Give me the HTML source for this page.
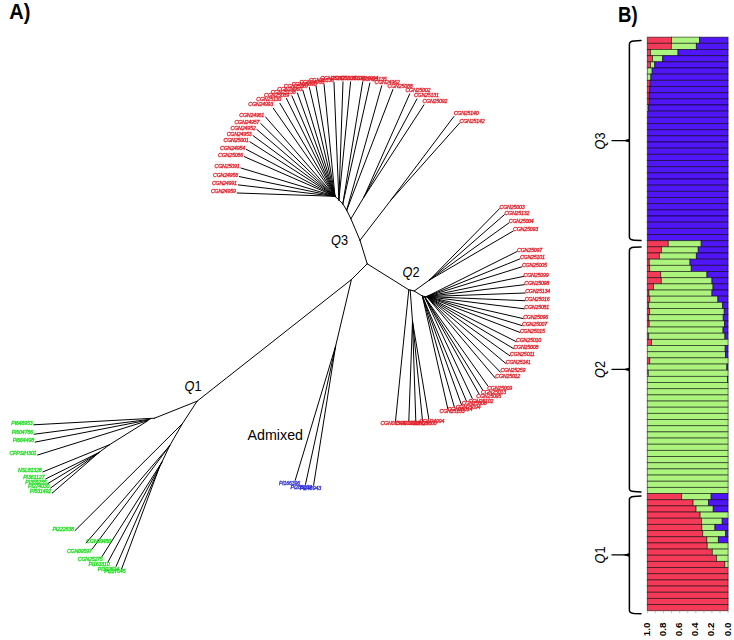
<!DOCTYPE html>
<html><head><meta charset="utf-8"><title>Figure</title>
<style>html,body{margin:0;padding:0;background:#fff}svg{display:block}</style></head>
<body><svg width="734" height="640" viewBox="0 0 734 640">
<defs><filter id="bl" x="-5%" y="-5%" width="110%" height="110%"><feGaussianBlur stdDeviation="0.35"/></filter></defs>
<rect width="734" height="640" fill="#fff"/>
<g stroke="#000" stroke-width="1" stroke-linecap="round" fill="none">
<path d="M367.2 263.8L360.0 240.3M360.0 240.3L350.9 218.8M350.9 218.8L346.7 210.2M346.7 210.2L342.8 203.9M342.8 203.9L338.9 200.0M338.9 200.0L335.0 196.3M360.0 240.3L391.0 200.0M391.0 200.0L453.9 116.5M391.0 200.0L459.6 123.0M350.9 218.8L364.0 197.0M364.0 197.0L409.7 93.9M364.0 197.0L416.9 99.0M364.0 197.0L423.9 104.9M346.7 210.2L381.7 85.8M346.7 210.2L392.9 89.5M342.8 203.9L362.7 81.9M342.8 203.9L369.9 83.0M338.9 200.0L343.0 81.9M338.9 200.0L350.6 81.9M335.0 196.3L237.2 193.0M335.0 196.3L238.3 184.9M335.0 196.3L239.4 176.6M335.0 196.3L240.9 168.0M335.0 196.3L244.4 156.7M335.0 196.3L246.4 149.4M335.0 196.3L249.9 141.8M335.0 196.3L253.0 135.6M335.0 196.3L256.9 129.5M335.0 196.3L260.8 123.6M335.0 196.3L265.6 117.0M335.0 196.3L273.3 108.3M335.0 196.3L279.9 103.3M335.0 196.3L286.4 98.4M335.0 196.3L291.9 95.8M335.0 196.3L297.4 93.0M335.0 196.3L302.8 90.1M335.0 196.3L309.4 87.5M335.0 196.3L316.0 85.8M335.0 196.3L324.0 84.0M338.9 200.0L334.0 82.3M367.2 263.8L408.8 289.8M408.8 289.8L414.2 291.0M414.2 291.0L422.4 296.1M422.4 296.1L424.4 296.5M424.4 296.5L426.7 296.6M414.2 291.0L429.5 280.0M429.5 280.0L499.6 208.6M429.5 280.0L504.4 214.7M429.5 280.0L508.8 223.0M429.5 280.0L513.1 231.1M426.7 296.6L517.1 251.5M426.7 296.6L519.9 258.9M426.7 296.6L521.9 266.8M426.7 296.6L523.6 276.4M426.7 296.6L524.3 284.7M426.7 296.6L525.2 293.0M426.7 296.6L524.7 300.7M426.7 296.6L524.3 308.8M426.7 296.6L523.2 318.6M426.7 296.6L522.1 325.6M426.7 296.6L519.9 332.4M426.7 296.6L516.1 341.6M426.7 296.6L513.5 348.6M426.7 296.6L509.8 355.8M426.7 296.6L505.8 363.5M426.7 296.6L500.4 372.2M426.7 296.6L495.3 378.1M424.4 296.5L487.9 386.0M424.4 296.5L482.8 390.2M424.4 296.5L478.9 393.7M424.4 296.5L472.3 398.5M422.4 296.1L466.4 401.1M422.4 296.1L461.4 404.6M422.4 296.1L454.4 407.2M422.4 296.1L447.8 408.8M408.8 289.8L395.5 421.2M410.2 290.0L412.5 321.2M412.5 321.2L408.8 421.2M412.5 321.2L415.8 421.2M412.5 321.2L422.5 420.5M412.5 321.2L428.8 418.8M367.2 263.8L351.4 279.6M351.4 279.6L197.1 401.2M351.4 279.6L335.6 346.2M335.6 346.2L295.2 480.3M335.6 346.2L305.5 484.3M335.6 346.2L313.6 485.3M197.1 401.2L154.5 418.2M154.5 418.2L33.8 424.8M150.0 419.3L34.2 434.2M148.5 420.0L35.2 442.1M147.7 420.7L37.7 455.0M147.0 421.3L109.5 444.7M109.5 444.7L99.0 452.5M109.5 444.7L42.9 471.9M99.0 452.5L45.7 478.9M99.0 452.5L47.8 483.6M99.0 452.5L50.6 488.0M99.0 452.5L52.3 493.0M197.1 401.2L182.5 423.5M182.5 423.5L169.6 445.8M169.6 445.8L161.9 462.2M161.9 462.2L159.5 467.0M182.5 423.5L75.0 530.6M169.6 445.8L86.2 542.9M169.6 445.8L92.5 548.6M161.9 462.2L102.0 556.5M161.9 462.2L108.0 562.0M159.5 467.0L116.1 566.3M159.5 467.0L121.6 569.0"/>
</g>
<g font-family="Liberation Sans, sans-serif" font-style="italic" font-size="5.3" stroke-width=".3" filter="url(#bl)" lengthAdjust="spacingAndGlyphs">
<text x="453.7" y="114.6" fill="#e0222c" stroke="#e0222c" textLength="25.0">CGN25140</text>
<text x="459.6" y="123.2" fill="#e0222c" stroke="#e0222c" textLength="25.0">CGN25142</text>
<text x="405.4" y="92.0" fill="#e0222c" stroke="#e0222c" textLength="25.0">CGN25002</text>
<text x="414.0" y="97.1" fill="#e0222c" stroke="#e0222c" textLength="25.0">CGN25131</text>
<text x="422.5" y="103.0" fill="#e0222c" stroke="#e0222c" textLength="25.0">CGN25092</text>
<text x="374.6" y="83.9" fill="#e0222c" stroke="#e0222c" textLength="25.0">CGN24962</text>
<text x="387.6" y="87.6" fill="#e0222c" stroke="#e0222c" textLength="25.0">CGN25088</text>
<text x="353.2" y="80.0" fill="#e0222c" stroke="#e0222c" textLength="25.0">CGN24994</text>
<text x="361.7" y="81.1" fill="#e0222c" stroke="#e0222c" textLength="25.0">CGN25135</text>
<text x="330.9" y="80.0" fill="#e0222c" stroke="#e0222c" textLength="25.0">CGN25139</text>
<text x="339.8" y="80.0" fill="#e0222c" stroke="#e0222c" textLength="25.0">CGN25100</text>
<text x="210.9" y="193.2" fill="#e0222c" stroke="#e0222c" textLength="25.0">CGN24959</text>
<text x="212.0" y="185.1" fill="#e0222c" stroke="#e0222c" textLength="25.0">CGN24991</text>
<text x="213.1" y="176.8" fill="#e0222c" stroke="#e0222c" textLength="25.0">CGN24956</text>
<text x="214.6" y="168.2" fill="#e0222c" stroke="#e0222c" textLength="25.0">CGN25091</text>
<text x="218.1" y="156.9" fill="#e0222c" stroke="#e0222c" textLength="25.0">CGN25086</text>
<text x="220.1" y="149.6" fill="#e0222c" stroke="#e0222c" textLength="25.0">CGN24954</text>
<text x="223.6" y="142.0" fill="#e0222c" stroke="#e0222c" textLength="25.0">CGN25001</text>
<text x="226.7" y="135.8" fill="#e0222c" stroke="#e0222c" textLength="25.0">CGN24953</text>
<text x="230.6" y="129.7" fill="#e0222c" stroke="#e0222c" textLength="25.0">CGN24952</text>
<text x="234.5" y="123.8" fill="#e0222c" stroke="#e0222c" textLength="25.0">CGN24957</text>
<text x="239.3" y="117.2" fill="#e0222c" stroke="#e0222c" textLength="25.0">CGN24961</text>
<text x="248.3" y="106.4" fill="#e0222c" stroke="#e0222c" textLength="25.0">CGN24993</text>
<text x="256.3" y="101.4" fill="#e0222c" stroke="#e0222c" textLength="25.0">CGN25130</text>
<text x="264.1" y="96.5" fill="#e0222c" stroke="#e0222c" textLength="25.0">CGN25089</text>
<text x="270.7" y="93.9" fill="#e0222c" stroke="#e0222c" textLength="25.0">CGN25138</text>
<text x="277.3" y="91.1" fill="#e0222c" stroke="#e0222c" textLength="25.0">CGN24960</text>
<text x="283.8" y="88.2" fill="#e0222c" stroke="#e0222c" textLength="25.0">CGN25087</text>
<text x="291.7" y="85.6" fill="#e0222c" stroke="#e0222c" textLength="25.0">CGN25090</text>
<text x="299.5" y="83.9" fill="#e0222c" stroke="#e0222c" textLength="25.0">CGN24958</text>
<text x="309.0" y="82.1" fill="#e0222c" stroke="#e0222c" textLength="25.0">CGN25136</text>
<text x="320.2" y="80.4" fill="#e0222c" stroke="#e0222c" textLength="25.0">CGN25137</text>
<text x="499.6" y="208.8" fill="#e0222c" stroke="#e0222c" textLength="25.0">CGN25003</text>
<text x="504.4" y="214.9" fill="#e0222c" stroke="#e0222c" textLength="25.0">CGN25132</text>
<text x="508.8" y="223.2" fill="#e0222c" stroke="#e0222c" textLength="25.0">CGN25004</text>
<text x="513.1" y="231.3" fill="#e0222c" stroke="#e0222c" textLength="25.0">CGN25093</text>
<text x="517.1" y="251.7" fill="#e0222c" stroke="#e0222c" textLength="25.0">CGN25097</text>
<text x="519.9" y="259.1" fill="#e0222c" stroke="#e0222c" textLength="25.0">CGN25101</text>
<text x="521.9" y="267.0" fill="#e0222c" stroke="#e0222c" textLength="25.0">CGN25005</text>
<text x="523.6" y="276.6" fill="#e0222c" stroke="#e0222c" textLength="25.0">CGN25099</text>
<text x="524.3" y="284.9" fill="#e0222c" stroke="#e0222c" textLength="25.0">CGN25098</text>
<text x="525.2" y="293.2" fill="#e0222c" stroke="#e0222c" textLength="25.0">CGN25134</text>
<text x="524.7" y="300.9" fill="#e0222c" stroke="#e0222c" textLength="25.0">CGN25016</text>
<text x="524.3" y="309.0" fill="#e0222c" stroke="#e0222c" textLength="25.0">CGN25081</text>
<text x="523.2" y="318.8" fill="#e0222c" stroke="#e0222c" textLength="25.0">CGN25096</text>
<text x="522.1" y="325.8" fill="#e0222c" stroke="#e0222c" textLength="25.0">CGN25007</text>
<text x="519.9" y="332.6" fill="#e0222c" stroke="#e0222c" textLength="25.0">CGN25015</text>
<text x="516.1" y="341.8" fill="#e0222c" stroke="#e0222c" textLength="25.0">CGN25010</text>
<text x="513.5" y="348.8" fill="#e0222c" stroke="#e0222c" textLength="25.0">CGN25008</text>
<text x="509.8" y="356.0" fill="#e0222c" stroke="#e0222c" textLength="25.0">CGN25011</text>
<text x="505.8" y="363.7" fill="#e0222c" stroke="#e0222c" textLength="25.0">CGN25141</text>
<text x="500.4" y="372.4" fill="#e0222c" stroke="#e0222c" textLength="25.0">CGN25259</text>
<text x="495.3" y="378.3" fill="#e0222c" stroke="#e0222c" textLength="25.0">CGN25012</text>
<text x="487.2" y="390.2" fill="#e0222c" stroke="#e0222c" textLength="25.0">CGN25009</text>
<text x="481.1" y="394.4" fill="#e0222c" stroke="#e0222c" textLength="25.0">CGN25013</text>
<text x="476.3" y="397.9" fill="#e0222c" stroke="#e0222c" textLength="25.0">CGN25095</text>
<text x="468.4" y="402.7" fill="#e0222c" stroke="#e0222c" textLength="25.0">CGN25102</text>
<text x="461.7" y="405.3" fill="#e0222c" stroke="#e0222c" textLength="25.0">CGN25006</text>
<text x="455.7" y="408.8" fill="#e0222c" stroke="#e0222c" textLength="25.0">CGN25094</text>
<text x="447.4" y="411.4" fill="#e0222c" stroke="#e0222c" textLength="25.0">CGN25014</text>
<text x="439.6" y="413.0" fill="#e0222c" stroke="#e0222c" textLength="25.0">CGN25133</text>
<text x="380.5" y="425.4" fill="#e0222c" stroke="#e0222c" textLength="25.0">CGN05548</text>
<text x="395.1" y="425.4" fill="#e0222c" stroke="#e0222c" textLength="25.0">CGN05549</text>
<text x="403.6" y="425.4" fill="#e0222c" stroke="#e0222c" textLength="25.0">CGN25129</text>
<text x="411.8" y="424.7" fill="#e0222c" stroke="#e0222c" textLength="25.0">CGN25100</text>
<text x="419.4" y="422.9" fill="#e0222c" stroke="#e0222c" textLength="25.0">CGN24994</text>
<text x="278.9" y="484.5" fill="#2a2ad8" stroke="#2a2ad8" textLength="21.4">PI166396</text>
<text x="290.6" y="488.5" fill="#2a2ad8" stroke="#2a2ad8" textLength="21.4">PI288232</text>
<text x="299.7" y="489.5" fill="#2a2ad8" stroke="#2a2ad8" textLength="21.4">PI248943</text>
<text x="11.3" y="425.0" fill="#22dd22" stroke="#22dd22" textLength="21.4">PI648953</text>
<text x="11.7" y="434.4" fill="#22dd22" stroke="#22dd22" textLength="21.4">PI604786</text>
<text x="12.7" y="442.3" fill="#22dd22" stroke="#22dd22" textLength="21.4">PI664498</text>
<text x="9.4" y="455.2" fill="#22dd22" stroke="#22dd22" textLength="27.0">CPPSIH301</text>
<text x="18.1" y="472.1" fill="#22dd22" stroke="#22dd22" textLength="23.6">NSL81328</text>
<text x="23.2" y="479.1" fill="#22dd22" stroke="#22dd22" textLength="21.4">PI361127</text>
<text x="25.3" y="483.8" fill="#22dd22" stroke="#22dd22" textLength="21.4">PI358255</text>
<text x="28.1" y="488.2" fill="#22dd22" stroke="#22dd22" textLength="21.4">PI274030</text>
<text x="29.8" y="493.2" fill="#22dd22" stroke="#22dd22" textLength="21.4">PI531492</text>
<text x="52.5" y="530.8" fill="#22dd22" stroke="#22dd22" textLength="21.4">PI222838</text>
<text x="86.2" y="543.2" fill="#22dd22" stroke="#22dd22" textLength="25.0">CGN09480</text>
<text x="67.0" y="552.8" fill="#22dd22" stroke="#22dd22" textLength="25.0">CGN09597</text>
<text x="77.8" y="560.7" fill="#22dd22" stroke="#22dd22" textLength="25.0">CGN25275</text>
<text x="88.4" y="566.2" fill="#22dd22" stroke="#22dd22" textLength="21.4">PI163310</text>
<text x="97.8" y="570.5" fill="#22dd22" stroke="#22dd22" textLength="21.4">PI302514</text>
<text x="104.3" y="573.2" fill="#22dd22" stroke="#22dd22" textLength="21.4">PI227045</text>
</g>
<g font-family="Liberation Sans, sans-serif" fill="#000">
<text x="339.5" y="244.6" font-size="14.4" text-anchor="middle" textLength="17" lengthAdjust="spacingAndGlyphs"><tspan font-style="italic">Q</tspan>3</text>
<text x="411" y="276.5" font-size="14.4" text-anchor="middle" textLength="17" lengthAdjust="spacingAndGlyphs"><tspan font-style="italic">Q</tspan>2</text>
<text x="193" y="390.6" font-size="14.4" text-anchor="middle" textLength="17" lengthAdjust="spacingAndGlyphs"><tspan font-style="italic">Q</tspan>1</text>
<text x="247.5" y="439.5" font-size="14" textLength="55.5" lengthAdjust="spacingAndGlyphs">Admixed</text>
<text x="9.3" y="19.1" font-size="21.5" font-weight="bold" textLength="21.2" lengthAdjust="spacingAndGlyphs">A)</text>
<text x="618" y="21.8" font-size="21.5" font-weight="bold" textLength="19.6" lengthAdjust="spacingAndGlyphs">B)</text>
<text x="605" y="141" font-size="14.4" text-anchor="middle" textLength="17" lengthAdjust="spacingAndGlyphs" transform="rotate(-90 605 141)"><tspan font-style="italic">Q</tspan>3</text>
<text x="605" y="369.5" font-size="14.4" text-anchor="middle" textLength="17" lengthAdjust="spacingAndGlyphs" transform="rotate(-90 605 369.5)"><tspan font-style="italic">Q</tspan>2</text>
<text x="605" y="555" font-size="14.4" text-anchor="middle" textLength="17" lengthAdjust="spacingAndGlyphs" transform="rotate(-90 605 555)"><tspan font-style="italic">Q</tspan>1</text>
</g>
<path d="M641 40.6L634 41.0Q629.4 41.3 629.4 44.1L629.4 237.1Q629.4 239.9 634 240.2L641 240.6" fill="none" stroke="#000" stroke-width="1.5" stroke-linecap="round"/>
<path d="M612 140.6L629.4 140.6" stroke="#000" stroke-width="1.3" fill="none" stroke-linecap="round"/>
<path d="M623 140.6L629.4 138.8L629.4 142.4Z" fill="#000"/>
<path d="M641 246.9L634 247.3Q629.4 247.6 629.4 250.4L629.4 488.4Q629.4 491.2 634 491.5L641 491.9" fill="none" stroke="#000" stroke-width="1.5" stroke-linecap="round"/>
<path d="M612 369.4L629.4 369.4" stroke="#000" stroke-width="1.3" fill="none" stroke-linecap="round"/>
<path d="M623 369.4L629.4 367.6L629.4 371.2Z" fill="#000"/>
<path d="M641 496.0L634 496.4Q629.4 496.7 629.4 499.5L629.4 610.2Q629.4 613.0 634 613.4L641 613.8" fill="none" stroke="#000" stroke-width="1.5" stroke-linecap="round"/>
<path d="M612 554.9L629.4 554.9" stroke="#000" stroke-width="1.3" fill="none" stroke-linecap="round"/>
<path d="M623 554.9L629.4 553.1L629.4 556.7Z" fill="#000"/>
<g stroke="#000" stroke-opacity=".58" stroke-width=".9">
<rect x="647.30" y="37.15" width="24.24" height="6.17" fill="#f43a58"/>
<rect x="671.54" y="37.15" width="28.04" height="6.17" fill="#adf47f"/>
<rect x="699.58" y="37.15" width="28.52" height="6.17" fill="#5016f5"/>
<rect x="647.30" y="43.32" width="24.08" height="6.17" fill="#f43a58"/>
<rect x="671.38" y="43.32" width="24.97" height="6.17" fill="#adf47f"/>
<rect x="696.35" y="43.32" width="31.75" height="6.17" fill="#5016f5"/>
<rect x="647.30" y="49.49" width="3.23" height="6.17" fill="#f43a58"/>
<rect x="650.53" y="49.49" width="27.47" height="6.17" fill="#adf47f"/>
<rect x="678.00" y="49.49" width="50.10" height="6.17" fill="#5016f5"/>
<rect x="647.30" y="55.65" width="5.25" height="6.17" fill="#f43a58"/>
<rect x="652.55" y="55.65" width="10.10" height="6.17" fill="#adf47f"/>
<rect x="662.65" y="55.65" width="65.45" height="6.17" fill="#5016f5"/>
<rect x="647.30" y="61.82" width="3.23" height="6.17" fill="#f43a58"/>
<rect x="650.53" y="61.82" width="4.20" height="6.17" fill="#adf47f"/>
<rect x="654.73" y="61.82" width="73.37" height="6.17" fill="#5016f5"/>
<rect x="647.30" y="67.99" width="4.85" height="6.17" fill="#adf47f"/>
<rect x="652.15" y="67.99" width="75.95" height="6.17" fill="#5016f5"/>
<rect x="647.30" y="74.16" width="3.56" height="6.17" fill="#adf47f"/>
<rect x="650.86" y="74.16" width="77.24" height="6.17" fill="#5016f5"/>
<rect x="647.30" y="80.32" width="2.91" height="6.17" fill="#f43a58"/>
<rect x="650.21" y="80.32" width="77.89" height="6.17" fill="#5016f5"/>
<rect x="647.30" y="86.49" width="2.42" height="6.17" fill="#f43a58"/>
<rect x="649.72" y="86.49" width="78.38" height="6.17" fill="#5016f5"/>
<rect x="647.30" y="92.66" width="1.94" height="6.17" fill="#f43a58"/>
<rect x="649.24" y="92.66" width="78.86" height="6.17" fill="#5016f5"/>
<rect x="647.30" y="98.83" width="1.94" height="6.17" fill="#f43a58"/>
<rect x="649.24" y="98.83" width="78.86" height="6.17" fill="#5016f5"/>
<rect x="647.30" y="105.00" width="1.13" height="6.17" fill="#adf47f"/>
<rect x="648.43" y="105.00" width="79.67" height="6.17" fill="#5016f5"/>
<rect x="647.30" y="111.16" width="80.80" height="6.17" fill="#5016f5"/>
<rect x="647.30" y="117.33" width="80.80" height="6.17" fill="#5016f5"/>
<rect x="647.30" y="123.50" width="80.80" height="6.17" fill="#5016f5"/>
<rect x="647.30" y="129.67" width="80.80" height="6.17" fill="#5016f5"/>
<rect x="647.30" y="135.83" width="80.80" height="6.17" fill="#5016f5"/>
<rect x="647.30" y="142.00" width="80.80" height="6.17" fill="#5016f5"/>
<rect x="647.30" y="148.17" width="80.80" height="6.17" fill="#5016f5"/>
<rect x="647.30" y="154.34" width="80.80" height="6.17" fill="#5016f5"/>
<rect x="647.30" y="160.50" width="80.80" height="6.17" fill="#5016f5"/>
<rect x="647.30" y="166.67" width="80.80" height="6.17" fill="#5016f5"/>
<rect x="647.30" y="172.84" width="80.80" height="6.17" fill="#5016f5"/>
<rect x="647.30" y="179.01" width="80.80" height="6.17" fill="#5016f5"/>
<rect x="647.30" y="185.18" width="80.80" height="6.17" fill="#5016f5"/>
<rect x="647.30" y="191.34" width="80.80" height="6.17" fill="#5016f5"/>
<rect x="647.30" y="197.51" width="80.80" height="6.17" fill="#5016f5"/>
<rect x="647.30" y="203.68" width="80.80" height="6.17" fill="#5016f5"/>
<rect x="647.30" y="209.85" width="80.80" height="6.17" fill="#5016f5"/>
<rect x="647.30" y="216.01" width="80.80" height="6.17" fill="#5016f5"/>
<rect x="647.30" y="222.18" width="80.80" height="6.17" fill="#5016f5"/>
<rect x="647.30" y="228.35" width="80.80" height="6.17" fill="#5016f5"/>
<rect x="647.30" y="234.52" width="80.80" height="6.17" fill="#5016f5"/>
<rect x="647.30" y="240.69" width="21.01" height="6.17" fill="#f43a58"/>
<rect x="668.31" y="240.69" width="32.89" height="6.17" fill="#adf47f"/>
<rect x="701.19" y="240.69" width="26.91" height="6.17" fill="#5016f5"/>
<rect x="647.30" y="246.85" width="14.14" height="6.17" fill="#f43a58"/>
<rect x="661.44" y="246.85" width="36.76" height="6.17" fill="#adf47f"/>
<rect x="698.20" y="246.85" width="29.90" height="6.17" fill="#5016f5"/>
<rect x="647.30" y="253.02" width="12.12" height="6.17" fill="#f43a58"/>
<rect x="659.42" y="253.02" width="36.93" height="6.17" fill="#adf47f"/>
<rect x="696.35" y="253.02" width="31.75" height="6.17" fill="#5016f5"/>
<rect x="647.30" y="259.19" width="2.02" height="6.17" fill="#f43a58"/>
<rect x="649.32" y="259.19" width="40.64" height="6.17" fill="#adf47f"/>
<rect x="689.96" y="259.19" width="38.14" height="6.17" fill="#5016f5"/>
<rect x="647.30" y="265.36" width="2.42" height="6.17" fill="#f43a58"/>
<rect x="649.72" y="265.36" width="41.53" height="6.17" fill="#adf47f"/>
<rect x="691.26" y="265.36" width="36.84" height="6.17" fill="#5016f5"/>
<rect x="647.30" y="271.52" width="13.41" height="6.17" fill="#f43a58"/>
<rect x="660.71" y="271.52" width="46.22" height="6.17" fill="#adf47f"/>
<rect x="706.93" y="271.52" width="21.17" height="6.17" fill="#5016f5"/>
<rect x="647.30" y="277.69" width="14.06" height="6.17" fill="#f43a58"/>
<rect x="661.36" y="277.69" width="50.58" height="6.17" fill="#adf47f"/>
<rect x="711.94" y="277.69" width="16.16" height="6.17" fill="#5016f5"/>
<rect x="647.30" y="283.86" width="6.14" height="6.17" fill="#f43a58"/>
<rect x="653.44" y="283.86" width="59.55" height="6.17" fill="#adf47f"/>
<rect x="712.99" y="283.86" width="15.11" height="6.17" fill="#5016f5"/>
<rect x="647.30" y="290.03" width="1.62" height="6.17" fill="#f43a58"/>
<rect x="648.92" y="290.03" width="63.02" height="6.17" fill="#adf47f"/>
<rect x="711.94" y="290.03" width="16.16" height="6.17" fill="#5016f5"/>
<rect x="647.30" y="296.20" width="2.42" height="6.17" fill="#f43a58"/>
<rect x="649.72" y="296.20" width="68.11" height="6.17" fill="#adf47f"/>
<rect x="717.84" y="296.20" width="10.26" height="6.17" fill="#5016f5"/>
<rect x="647.30" y="302.36" width="1.37" height="6.17" fill="#f43a58"/>
<rect x="648.67" y="302.36" width="73.93" height="6.17" fill="#adf47f"/>
<rect x="722.61" y="302.36" width="5.49" height="6.17" fill="#5016f5"/>
<rect x="647.30" y="308.53" width="2.34" height="6.17" fill="#f43a58"/>
<rect x="649.64" y="308.53" width="74.58" height="6.17" fill="#adf47f"/>
<rect x="724.22" y="308.53" width="3.88" height="6.17" fill="#5016f5"/>
<rect x="647.30" y="314.70" width="1.37" height="6.17" fill="#f43a58"/>
<rect x="648.67" y="314.70" width="74.58" height="6.17" fill="#adf47f"/>
<rect x="723.25" y="314.70" width="4.85" height="6.17" fill="#5016f5"/>
<rect x="647.30" y="320.87" width="1.94" height="6.17" fill="#f43a58"/>
<rect x="649.24" y="320.87" width="75.31" height="6.17" fill="#adf47f"/>
<rect x="724.54" y="320.87" width="3.56" height="6.17" fill="#5016f5"/>
<rect x="647.30" y="327.03" width="75.71" height="6.17" fill="#adf47f"/>
<rect x="723.01" y="327.03" width="5.09" height="6.17" fill="#5016f5"/>
<rect x="647.30" y="333.20" width="1.37" height="6.17" fill="#f43a58"/>
<rect x="648.67" y="333.20" width="76.19" height="6.17" fill="#adf47f"/>
<rect x="724.87" y="333.20" width="3.23" height="6.17" fill="#5016f5"/>
<rect x="647.30" y="339.37" width="4.20" height="6.17" fill="#f43a58"/>
<rect x="651.50" y="339.37" width="76.60" height="6.17" fill="#adf47f"/>
<rect x="647.30" y="345.54" width="77.89" height="6.17" fill="#adf47f"/>
<rect x="725.19" y="345.54" width="2.91" height="6.17" fill="#5016f5"/>
<rect x="647.30" y="351.70" width="78.21" height="6.17" fill="#adf47f"/>
<rect x="725.51" y="351.70" width="2.59" height="6.17" fill="#5016f5"/>
<rect x="647.30" y="357.87" width="2.42" height="6.17" fill="#f43a58"/>
<rect x="649.72" y="357.87" width="78.38" height="6.17" fill="#adf47f"/>
<rect x="647.30" y="364.04" width="79.51" height="6.17" fill="#adf47f"/>
<rect x="726.81" y="364.04" width="1.29" height="6.17" fill="#5016f5"/>
<rect x="647.30" y="370.21" width="1.05" height="6.17" fill="#f43a58"/>
<rect x="648.35" y="370.21" width="79.75" height="6.17" fill="#adf47f"/>
<rect x="647.30" y="376.38" width="80.15" height="6.17" fill="#adf47f"/>
<rect x="727.45" y="376.38" width="0.65" height="6.17" fill="#5016f5"/>
<rect x="647.30" y="382.54" width="80.80" height="6.17" fill="#adf47f"/>
<rect x="647.30" y="388.71" width="80.80" height="6.17" fill="#adf47f"/>
<rect x="647.30" y="394.88" width="80.80" height="6.17" fill="#adf47f"/>
<rect x="647.30" y="401.05" width="80.80" height="6.17" fill="#adf47f"/>
<rect x="647.30" y="407.21" width="80.80" height="6.17" fill="#adf47f"/>
<rect x="647.30" y="413.38" width="80.80" height="6.17" fill="#adf47f"/>
<rect x="647.30" y="419.55" width="80.80" height="6.17" fill="#adf47f"/>
<rect x="647.30" y="425.72" width="80.80" height="6.17" fill="#adf47f"/>
<rect x="647.30" y="431.89" width="80.80" height="6.17" fill="#adf47f"/>
<rect x="647.30" y="438.05" width="80.80" height="6.17" fill="#adf47f"/>
<rect x="647.30" y="444.22" width="80.80" height="6.17" fill="#adf47f"/>
<rect x="647.30" y="450.39" width="80.80" height="6.17" fill="#adf47f"/>
<rect x="647.30" y="456.56" width="80.80" height="6.17" fill="#adf47f"/>
<rect x="647.30" y="462.72" width="80.80" height="6.17" fill="#adf47f"/>
<rect x="647.30" y="468.89" width="80.80" height="6.17" fill="#adf47f"/>
<rect x="647.30" y="475.06" width="80.80" height="6.17" fill="#adf47f"/>
<rect x="647.30" y="481.23" width="80.80" height="6.17" fill="#adf47f"/>
<rect x="647.30" y="487.40" width="80.80" height="6.17" fill="#adf47f"/>
<rect x="647.30" y="493.56" width="34.34" height="6.17" fill="#f43a58"/>
<rect x="681.64" y="493.56" width="29.49" height="6.17" fill="#adf47f"/>
<rect x="711.13" y="493.56" width="16.97" height="6.17" fill="#5016f5"/>
<rect x="647.30" y="499.73" width="45.81" height="6.17" fill="#f43a58"/>
<rect x="693.11" y="499.73" width="15.35" height="6.17" fill="#adf47f"/>
<rect x="708.47" y="499.73" width="19.63" height="6.17" fill="#5016f5"/>
<rect x="647.30" y="505.90" width="48.80" height="6.17" fill="#f43a58"/>
<rect x="696.10" y="505.90" width="17.13" height="6.17" fill="#adf47f"/>
<rect x="713.23" y="505.90" width="14.87" height="6.17" fill="#5016f5"/>
<rect x="647.30" y="512.07" width="52.84" height="6.17" fill="#f43a58"/>
<rect x="700.14" y="512.07" width="27.96" height="6.17" fill="#adf47f"/>
<rect x="647.30" y="518.23" width="54.14" height="6.17" fill="#f43a58"/>
<rect x="701.44" y="518.23" width="20.77" height="6.17" fill="#adf47f"/>
<rect x="722.20" y="518.23" width="5.90" height="6.17" fill="#5016f5"/>
<rect x="647.30" y="524.40" width="54.54" height="6.17" fill="#f43a58"/>
<rect x="701.84" y="524.40" width="13.09" height="6.17" fill="#adf47f"/>
<rect x="714.93" y="524.40" width="13.17" height="6.17" fill="#5016f5"/>
<rect x="647.30" y="530.57" width="55.43" height="6.17" fill="#f43a58"/>
<rect x="702.73" y="530.57" width="22.95" height="6.17" fill="#adf47f"/>
<rect x="725.68" y="530.57" width="2.42" height="6.17" fill="#5016f5"/>
<rect x="647.30" y="536.74" width="59.55" height="6.17" fill="#f43a58"/>
<rect x="706.85" y="536.74" width="11.55" height="6.17" fill="#adf47f"/>
<rect x="718.40" y="536.74" width="9.70" height="6.17" fill="#5016f5"/>
<rect x="647.30" y="542.90" width="59.95" height="6.17" fill="#f43a58"/>
<rect x="707.25" y="542.90" width="20.85" height="6.17" fill="#adf47f"/>
<rect x="647.30" y="549.07" width="65.04" height="6.17" fill="#f43a58"/>
<rect x="712.34" y="549.07" width="15.76" height="6.17" fill="#adf47f"/>
<rect x="647.30" y="555.24" width="69.25" height="6.17" fill="#f43a58"/>
<rect x="716.55" y="555.24" width="11.55" height="6.17" fill="#adf47f"/>
<rect x="647.30" y="561.41" width="77.49" height="6.17" fill="#f43a58"/>
<rect x="724.79" y="561.41" width="3.31" height="6.17" fill="#adf47f"/>
<rect x="647.30" y="567.58" width="80.80" height="6.17" fill="#f43a58"/>
<rect x="647.30" y="573.74" width="80.80" height="6.17" fill="#f43a58"/>
<rect x="647.30" y="579.91" width="80.80" height="6.17" fill="#f43a58"/>
<rect x="647.30" y="586.08" width="80.80" height="6.17" fill="#f43a58"/>
<rect x="647.30" y="592.25" width="80.80" height="6.17" fill="#f43a58"/>
<rect x="647.30" y="598.41" width="80.80" height="6.17" fill="#f43a58"/>
<rect x="647.30" y="604.58" width="80.80" height="6.17" fill="#f43a58"/>
</g>
<g stroke="#999" stroke-width=".6">
<path d="M647.3 611.3v2"/>
<path d="M655.4 611.3v2"/>
<path d="M663.5 611.3v2"/>
<path d="M671.5 611.3v2"/>
<path d="M679.6 611.3v2"/>
<path d="M687.7 611.3v2"/>
<path d="M695.8 611.3v2"/>
<path d="M703.9 611.3v2"/>
<path d="M711.9 611.3v2"/>
<path d="M720.0 611.3v2"/>
<path d="M728.1 611.3v2"/>
</g>
<g font-family="Liberation Sans, sans-serif" font-weight="bold" font-size="9.8" fill="#000">
<text transform="translate(649.7 636.2) rotate(-90)" >1.0</text>
<text transform="translate(665.9 636.2) rotate(-90)" >0.8</text>
<text transform="translate(682.0 636.2) rotate(-90)" >0.6</text>
<text transform="translate(698.2 636.2) rotate(-90)" >0.4</text>
<text transform="translate(714.3 636.2) rotate(-90)" >0.2</text>
<text transform="translate(730.5 636.2) rotate(-90)" >0.0</text>
</g>
</svg></body></html>
